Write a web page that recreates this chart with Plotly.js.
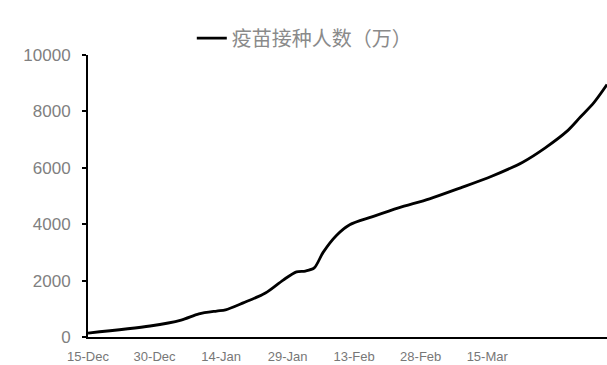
<!DOCTYPE html>
<html>
<head>
<meta charset="utf-8">
<script src="https://cdn.plot.ly/plotly-3.0.1.min.js"></script>
<style>html,body{margin:0;padding:0;background:#fff;}#chart{width:607px;height:365px;}</style>
</head>
<body>
<div id="chart"></div>
<script>
const seriesName = "疫苗接种人数（万）";
const dates = ["2020-12-15","2020-12-29","2021-01-05","2021-01-09","2021-01-13","2021-01-15","2021-01-19","2021-01-24","2021-01-28","2021-01-31","2021-02-02","2021-02-04","2021-02-06","2021-02-09","2021-02-12","2021-02-17","2021-02-23","2021-03-02","2021-03-09","2021-03-16","2021-03-23","2021-03-28","2021-04-02","2021-04-05","2021-04-08","2021-04-11"];
const values = [140,390,600,820,920,960,1210,1560,2020,2310,2340,2450,3000,3600,3980,4260,4580,4900,5290,5700,6200,6700,7300,7800,8300,8950];
const tickDates = ["2020-12-15","2020-12-30","2021-01-14","2021-01-29","2021-02-13","2021-02-28","2021-03-15"];
const tickLabels = ["15-Dec","30-Dec","14-Jan","29-Jan","13-Feb","28-Feb","15-Mar"];
const yTicks = [0,2000,4000,6000,8000,10000];
const yTickLabels = ["0","2000","4000","6000","8000","10000"];

Plotly.newPlot("chart", [{
  x: dates, y: values, name: seriesName, type: "scatter", mode: "lines",
  line: {color: "#000", width: 2.8, shape: "spline", smoothing: 0.8}
}], {
  width: 607, height: 365,
  margin: {l: 88, r: 0, t: 55, b: 28},
  paper_bgcolor: "#fff", plot_bgcolor: "#fff",
  showlegend: true,
  legend: {x: 0.2, y: 1.06, xanchor: "left", yanchor: "middle", orientation: "h",
           font: {family: "Noto Sans CJK SC", size: 20, color: "#8a8a8a"}, bgcolor: "rgba(0,0,0,0)"},
  xaxis: {type: "date", range: ["2020-12-15", "2021-04-11"], tickvals: tickDates, ticktext: tickLabels,
          showgrid: false, zeroline: false, showline: true, linecolor: "#000", linewidth: 2,
          ticks: "", ticklabelstandoff: 6, tickfont: {family: "Liberation Sans Narrow, Liberation Sans", size: 13, color: "#777"}},
  yaxis: {range: [0, 10000], tickvals: yTicks, ticktext: yTickLabels, showgrid: false, zeroline: false,
          showline: true, linecolor: "#000", linewidth: 2, ticks: "outside", ticklen: 4, tickwidth: 2, tickcolor: "#000",
          ticklabelstandoff: 8, tickfont: {family: "Liberation Sans", size: 17, color: "#808080"}}
}, {displayModeBar: false, staticPlot: true});
</script>
</body>
</html>
